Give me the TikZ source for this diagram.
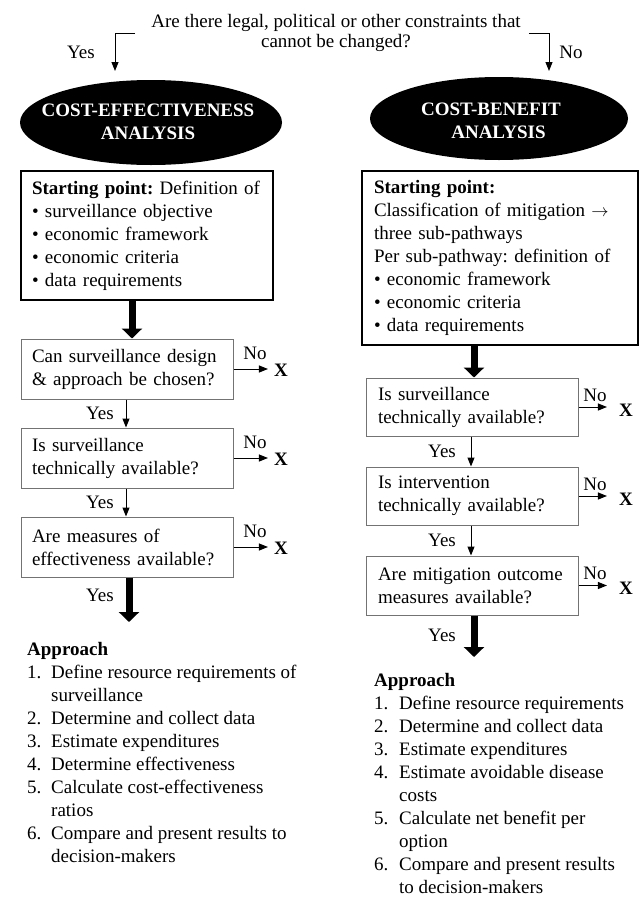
\documentclass[tikz,border=0pt]{standalone}
\usepackage{fontspec}
\setmainfont{Liberation Serif}
\usetikzlibrary{arrows.meta,shapes.geometric,calc}
\newcommand\bodyfont{\fontsize{19}{23}\selectfont\frenchspacing}
\begin{document}
\frenchspacing
\begin{tikzpicture}[x=1pt,y=-1pt,
  txt/.style={font=\bodyfont, inner sep=0pt},
  oval/.style={ellipse, fill=black, inner sep=0pt},
  ovaltext/.style={text=white, font=\bodyfont\bfseries, align=center, inner sep=0pt},
  startbox/.style={draw=black, line width=1.2pt, font=\bodyfont, align=left, inner ysep=0pt},
  qbox/.style={draw=black!55, line width=1pt, font=\bodyfont, align=left, inner ysep=0pt},
  arr/.style={line width=1pt, -{Triangle[length=9pt,width=7pt]}},
  bigarr/.style={line width=7pt, -{Triangle[length=10pt,width=20pt]}},
  xmark/.style={font=\bodyfont\bfseries, inner sep=0pt},
]
\fill[white] (0,0) rectangle (644,897);
\useasboundingbox (0,0) rectangle (644,897);

% top question
\node[txt, align=center, font=\fontsize{19}{20}\selectfont\frenchspacing] (q0) at (336,33)
  {Are there legal, political or other constraints that\\cannot be changed?};
\coordinate (yesTip) at (115,71);
\coordinate (noTip) at (549,71);
\draw[arr] ([xshift=-16pt]q0.west) -| (yesTip);
\draw[arr] ([xshift=8pt]q0.east) -| (noTip);
\node[txt] (yes0) at (81,52) {Yes};
\node[txt] (no0) at (571,52) {No};

% ellipses
\node[oval, minimum width=262pt, minimum height=85pt] (cea) at (151,122.5) {};
\node[ovaltext] (ceat) at (148,121.5) {COST-EFFECTIVENESS\\ANALYSIS};
\node[oval, minimum width=258pt, minimum height=83pt] (cba) at (499,118.5) {};
\node[ovaltext] (cbat) at (498.5,120.5) {COST-BENEFIT\hspace*{15pt}\\ANALYSIS};

% starting boxes
\node[startbox, minimum width=252pt, minimum height=129pt, text width=230pt, inner xsep=11pt] (ces) at (147,235.5)
  {\textbf{Starting point:} Definition of\\\textbullet\ surveillance objective\\\textbullet\ economic framework\\\textbullet\ economic criteria\\\textbullet\ data requirements};
\node[startbox, minimum width=276pt, minimum height=174pt, text width=252pt, inner xsep=12pt] (cbs) at (500,258)
  {\textbf{Starting point:}\\Classification of mitigation $\rightarrow$\\three sub-pathways\\Per sub-pathway: definition of\\\textbullet\ economic framework\\\textbullet\ economic criteria\\\textbullet\ data requirements};

% left question boxes
\node[qbox, minimum width=212pt, minimum height=60pt, text width=190pt, inner xsep=11pt] (ceq1) at (127,369)
  {\mbox{Can surveillance design}\\\mbox{\& approach be chosen?}};
\node[qbox, minimum width=212pt, minimum height=60pt, text width=190pt, inner xsep=11pt] (ceq2) at (127,458)
  {Is surveillance\\\mbox{technically available?}};
\node[qbox, minimum width=212pt, minimum height=60pt, text width=190pt, inner xsep=11pt] (ceq3) at (127,547)
  {Are measures of\\\mbox{effectiveness available?}};

% right question boxes
\node[qbox, minimum width=212pt, minimum height=58pt, text width=188pt, inner xsep=12pt] (cbq1) at (472,407)
  {Is surveillance\\\mbox{technically available?}};
\node[qbox, minimum width=212pt, minimum height=58pt, text width=188pt, inner xsep=12pt] (cbq2) at (472,496)
  {Is intervention\\\mbox{technically available?}};
\node[qbox, minimum width=212pt, minimum height=59pt, text width=188pt, inner xsep=12pt] (cbq3) at (472,585.5)
  {\mbox{Are mitigation outcome}\\\mbox{measures available?}};

% left flow
\coordinate (aL) at (132,0);
\coordinate (yL) at (126,0);
\coordinate (endL) at (129,622);
\draw[bigarr] (ces.south -| aL) -- (ceq1.north -| aL);
\draw[arr] (ceq1.south -| yL) -- (ceq2.north -| yL);
\draw[arr] (ceq2.south -| yL) -- (ceq3.north -| yL);
\draw[bigarr] (ceq3.south -| endL) -- (endL);
\node[txt] (ly1) at (100,413.5) {Yes};
\node[txt] (ly2) at (100,502.5) {Yes};
\node[txt] (ly3) at (100,595) {Yes};

\node[xmark] (lx1) at (281,370.5) {X};
\node[xmark] (lx2) at (281,459.5) {X};
\node[xmark] (lx3) at (281,548.5) {X};
\draw[arr, shorten >=6pt] (ceq1.east) -- (ceq1.east -| lx1.west);
\draw[arr, shorten >=6pt] (ceq2.east) -- (ceq2.east -| lx2.west);
\draw[arr, shorten >=6pt] (ceq3.east) -- (ceq3.east -| lx3.west);
\node[txt] (ln1) at (255,353) {No};
\node[txt] (ln2) at (255,442) {No};
\node[txt] (ln3) at (255,531) {No};

% right flow
\coordinate (aR) at (474,0);
\coordinate (yR) at (471,0);
\coordinate (endR) at (474,657);
\draw[bigarr] (cbs.south -| aR) -- (cbq1.north -| aR);
\draw[arr] (cbq1.south -| yR) -- (cbq2.north -| yR);
\draw[arr] (cbq2.south -| yR) -- (cbq3.north -| yR);
\draw[bigarr] (cbq3.south -| endR) -- (endR);
\node[txt] (ry1) at (442,451.5) {Yes};
\node[txt] (ry2) at (442,540.5) {Yes};
\node[txt] (ry3) at (442,635) {Yes};

\node[xmark] (rx1) at (626,410) {X};
\node[xmark] (rx2) at (626,499) {X};
\node[xmark] (rx3) at (626,588.5) {X};
\draw[arr, shorten >=12pt] (cbq1.east) -- (cbq1.east -| rx1.west);
\draw[arr, shorten >=12pt] (cbq2.east) -- (cbq2.east -| rx2.west);
\draw[arr, shorten >=12pt] (cbq3.east) -- (cbq3.east -| rx3.west);
\node[txt] (rn1) at (595,395) {No};
\node[txt] (rn2) at (595,484) {No};
\node[txt] (rn3) at (595,573.5) {No};

% approach lists
\node[txt, anchor=base west] (ceapp) at (27,655)
  {\begin{tabular}[t]{@{}p{24pt}@{}l@{}}
   \multicolumn{2}{@{}l@{}}{\textbf{Approach}}\\
   1. & Define resource requirements of\\
      & surveillance\\
   2. & Determine and collect data\\
   3. & Estimate expenditures\\
   4. & Determine effectiveness\\
   5. & Calculate cost-effectiveness\\
      & ratios\\
   6. & Compare and present results to\\
      & decision-makers
   \end{tabular}};
\node[txt, anchor=base west] (cbapp) at (374,686)
  {\begin{tabular}[t]{@{}p{25pt}@{}l@{}}
   \multicolumn{2}{@{}l@{}}{\textbf{Approach}}\\
   1. & Define resource requirements\\
   2. & Determine and collect data\\
   3. & Estimate expenditures\\
   4. & Estimate avoidable disease\\
      & costs\\
   5. & Calculate net benefit per\\
      & option\\
   6. & Compare and present results\\
      & to decision-makers
   \end{tabular}};
\end{tikzpicture}
\end{document}
